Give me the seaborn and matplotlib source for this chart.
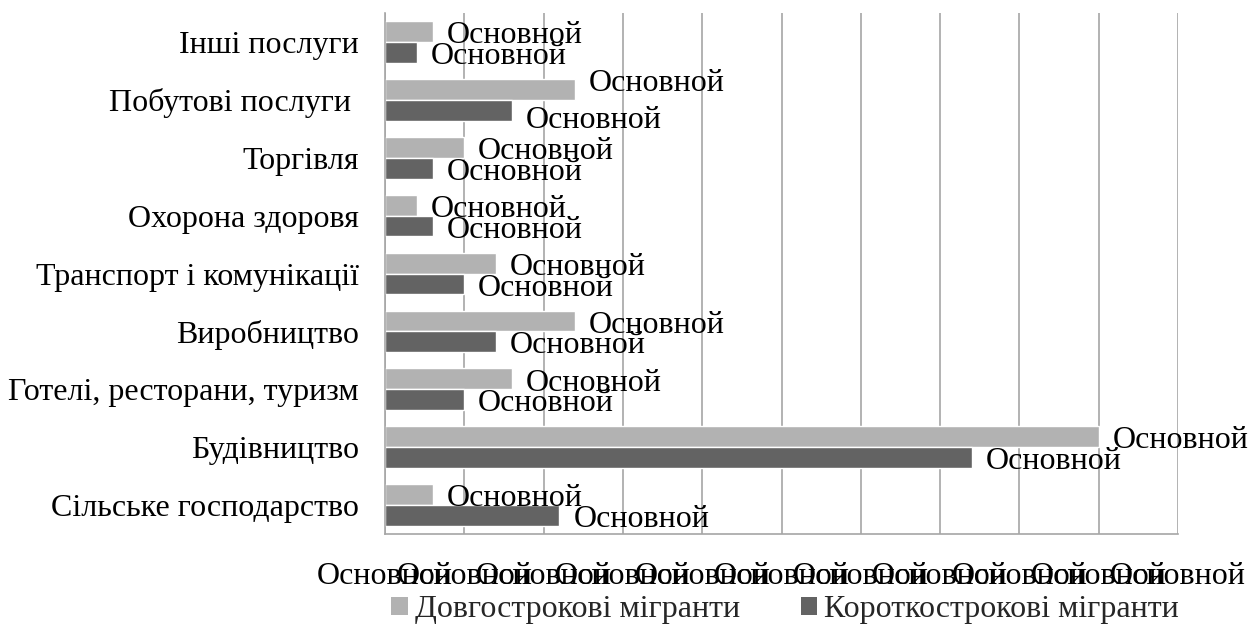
import matplotlib
matplotlib.use("Agg")
import matplotlib.pyplot as plt
from matplotlib.patches import Patch
import seaborn as sns
import pandas as pd

categories = [
    "Інші послуги",
    "Побутові послуги ",
    "Торгівля",
    "Охорона здоровя",
    "Транспорт і комунікації",
    "Виробництво",
    "Готелі, ресторани, туризм",
    "Будівництво",
    "Сільське господарство",
]
series_names = ["Довгострокові мігранти", "Короткострокові мігранти"]
long_term = [0.6, 2.4, 1.0, 0.4, 1.4, 2.4, 1.6, 9.0, 0.6]
short_term = [0.4, 1.6, 0.6, 0.6, 1.0, 1.4, 1.0, 7.4, 2.2]
x_ticks = [0, 1, 2, 3, 4, 5, 6, 7, 8, 9, 10]
x_tick_labels = ["Основной"] * 11
data_label_text = "Основной"

colors = ["#B2B2B2", "#636363"]

df = pd.DataFrame({
    "category": categories * 2,
    "value": long_term + short_term,
    "series": [series_names[0]] * len(categories) + [series_names[1]] * len(categories),
})

sns.set_theme(style="white")
plt.rcParams["font.family"] = ["Liberation Serif", "DejaVu Serif"]
FS = 23

fig = plt.figure(figsize=(12.52, 6.26), dpi=100)
ax = fig.add_axes([385 / 1252, 1 - 534 / 626, (1178 - 385) / 1252, (534 - 13) / 626])

sns.barplot(data=df, y="category", x="value", hue="series", orient="h",
            order=categories, hue_order=series_names, palette=colors,
            saturation=1, width=0.72, gap=0, legend=False, ax=ax)

ax.set_xlim(0, 10)
ax.set_ylim(len(categories) - 0.5, -0.5)
ax.set_xticks(x_ticks)
ax.set_xticklabels(x_tick_labels, fontsize=FS)
ax.set_yticks(range(len(categories)))
ax.set_yticklabels(categories, fontsize=FS)
ax.set_xlabel("")
ax.set_ylabel("")
ax.tick_params(axis="y", length=0, pad=19, colors="black")
ax.tick_params(axis="x", length=0, pad=20.5, colors="black")
ax.grid(axis="x", color="#A6A6A6", linewidth=1.2)
ax.grid(axis="y", visible=False)
ax.set_axisbelow(True)
for s in ["top", "right"]:
    ax.spines[s].set_visible(False)
for s in ["left", "bottom"]:
    ax.spines[s].set_color("#A6A6A6")
    ax.spines[s].set_linewidth(1.2)

# label nudges (points) for the one category whose labels were spread apart
nudges = {(0, 1): 7.5, (1, 1): -4.5}
for si, cont in enumerate(ax.containers):
    anns = ax.bar_label(cont, labels=[data_label_text] * len(cont), padding=10,
                        fontsize=FS, color="black")
    for ci, a in enumerate(anns):
        a.xyann = (10, -3 + nudges.get((si, ci), 0))

handles = [Patch(facecolor=c, edgecolor="none") for c in colors]
fig.legend(handles, series_names, loc="center", bbox_to_anchor=(785 / 1252, 1 - 610 / 626),
           ncol=2, frameon=False, fontsize=FS, handlelength=0.53, handleheight=0.5,
           handletextpad=0.22, columnspacing=1.9, borderpad=0, borderaxespad=0)

fig.savefig("out.png", dpi=100, facecolor="white")
